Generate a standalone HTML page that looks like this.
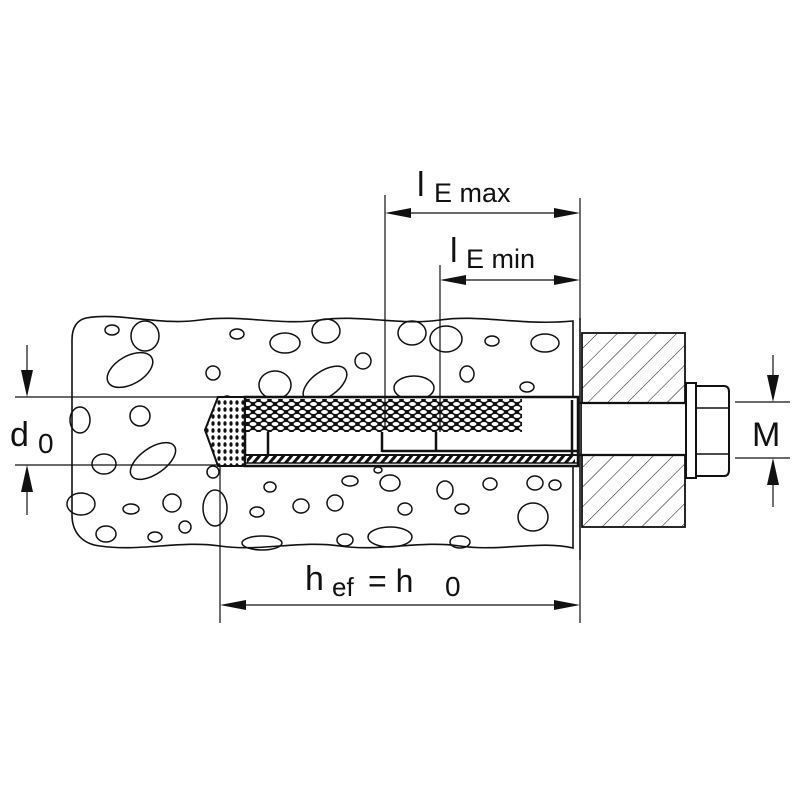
<!DOCTYPE html>
<html><head><style>
body{margin:0;background:#fff;}
svg{display:block;}
text{font-family:"Liberation Sans",sans-serif;fill:#111;}
</style></head><body>
<svg width="800" height="800" viewBox="0 0 800 800" xmlns="http://www.w3.org/2000/svg">
<defs>
<pattern id="hatch" patternUnits="userSpaceOnUse" width="14" height="14" patternTransform="rotate(45)">
<line x1="0" y1="0" x2="0" y2="14" stroke="#222" stroke-width="1.1"/>
</pattern>
<pattern id="mesh" patternUnits="userSpaceOnUse" width="11" height="8">
<rect width="11" height="8" fill="#111"/>
<ellipse cx="5.5" cy="4" rx="3.4" ry="2" fill="#fff"/>
<ellipse cx="0" cy="0" rx="3.4" ry="2" fill="#fff"/>
<ellipse cx="11" cy="0" rx="3.4" ry="2" fill="#fff"/>
<ellipse cx="0" cy="8" rx="3.4" ry="2" fill="#fff"/>
<ellipse cx="11" cy="8" rx="3.4" ry="2" fill="#fff"/>
</pattern>
<pattern id="dots" patternUnits="userSpaceOnUse" width="6" height="7">
<rect width="6" height="7" fill="#fff"/>
<ellipse cx="3" cy="3.5" rx="1.6" ry="2.3" fill="#111"/>
</pattern>
<pattern id="stripe" patternUnits="userSpaceOnUse" width="8" height="8" patternTransform="skewX(-40)">
<rect width="8" height="8" fill="#fff"/>
<rect width="4" height="8" fill="#111"/>
</pattern>
</defs>
<g fill="none" stroke="#111" stroke-width="1.6">
<path d="M86,318 C120,312 160,326 200,320 C240,314 280,326 320,320 C360,314 400,326 440,320 C480,314 520,326 573,321 L573,548 C540,540 500,552 460,546 C420,540 380,552 340,546 C300,540 260,552 220,546 C180,540 140,552 100,546 C82,544 72,532 72,515 L72,340 C72,326 78,320 86,318 Z"/>
<g stroke-width="1.5">
<ellipse cx="112" cy="330" rx="7" ry="5"/>
<ellipse cx="145" cy="336" rx="14" ry="15"/>
<ellipse cx="237" cy="334" rx="7" ry="5"/>
<ellipse cx="285" cy="343" rx="15" ry="10"/>
<ellipse cx="326" cy="331" rx="14" ry="12"/>
<ellipse cx="363" cy="361" rx="8" ry="8"/>
<ellipse cx="412" cy="333" rx="14" ry="12"/>
<ellipse cx="446" cy="339" rx="16" ry="13"/>
<ellipse cx="492" cy="341" rx="7" ry="5"/>
<ellipse cx="545" cy="343" rx="14" ry="9"/>
<ellipse cx="130" cy="370" rx="25" ry="14" transform="rotate(-30 130 370)"/>
<ellipse cx="213" cy="373" rx="7" ry="7"/>
<ellipse cx="275" cy="385" rx="16" ry="14"/>
<ellipse cx="325" cy="384" rx="25" ry="13" transform="rotate(-35 325 384)"/>
<ellipse cx="467" cy="374" rx="7" ry="8"/>
<ellipse cx="527" cy="387" rx="7" ry="5"/>
<ellipse cx="414" cy="388" rx="20" ry="12"/>
<ellipse cx="227" cy="401" rx="5" ry="5"/>
<ellipse cx="140" cy="416" rx="10" ry="10"/>
<ellipse cx="80" cy="420" rx="10" ry="13"/>
<ellipse cx="153" cy="461" rx="26" ry="13" transform="rotate(-35 153 461)"/>
<ellipse cx="104" cy="464" rx="12" ry="10"/>
<ellipse cx="213" cy="472" rx="6" ry="6"/>
<ellipse cx="81" cy="504" rx="14" ry="11"/>
<ellipse cx="131" cy="509" rx="8" ry="5"/>
<ellipse cx="172" cy="503" rx="9" ry="9"/>
<ellipse cx="185" cy="527" rx="6" ry="6"/>
<ellipse cx="106" cy="534" rx="10" ry="8"/>
<ellipse cx="155" cy="537" rx="7" ry="5"/>
<ellipse cx="215" cy="508" rx="12" ry="18"/>
<ellipse cx="270" cy="487" rx="6" ry="5"/>
<ellipse cx="257" cy="512" rx="7" ry="5"/>
<ellipse cx="301" cy="506" rx="8" ry="7"/>
<ellipse cx="350" cy="481" rx="8" ry="5"/>
<ellipse cx="390" cy="483" rx="10" ry="8"/>
<ellipse cx="405" cy="509" rx="7" ry="6"/>
<ellipse cx="445" cy="490" rx="8" ry="9"/>
<ellipse cx="462" cy="509" rx="7" ry="5"/>
<ellipse cx="490" cy="484" rx="7" ry="6"/>
<ellipse cx="533" cy="517" rx="15" ry="14"/>
<ellipse cx="535" cy="483" rx="8" ry="7"/>
<ellipse cx="555" cy="485" rx="6" ry="5"/>
<ellipse cx="390" cy="537" rx="22" ry="10"/>
<ellipse cx="262" cy="543" rx="20" ry="7"/>
<ellipse cx="345" cy="540" rx="8" ry="6"/>
<ellipse cx="460" cy="542" rx="10" ry="6"/>
<ellipse cx="335" cy="503" rx="8" ry="8"/>
<ellipse cx="378" cy="470" rx="4" ry="3"/>
</g>
</g>
<rect x="218" y="397" width="360" height="69" fill="#fff"/>
<polygon points="218,397 245,397 245,466 218,466 205,430" fill="url(#dots)" stroke="#111" stroke-width="2"/>
<rect x="245" y="397" width="333" height="69" fill="#fff" stroke="#111" stroke-width="2.5"/>
<rect x="246" y="399" width="276" height="33" fill="url(#mesh)"/>
<rect x="247" y="455" width="328" height="8" fill="url(#stripe)"/>
<line x1="245" y1="455" x2="578" y2="455" stroke="#111" stroke-width="2"/>
<line x1="245" y1="463" x2="578" y2="463" stroke="#111" stroke-width="1.5"/>
<g stroke="#111" stroke-width="2.5">
<line x1="268" y1="432" x2="268" y2="455"/>
<line x1="382" y1="432" x2="382" y2="452"/>
<line x1="436" y1="432" x2="436" y2="452"/>
<line x1="382" y1="451" x2="578" y2="451"/>
<line x1="572" y1="400" x2="572" y2="455"/>
</g>
<rect x="582" y="333" width="103" height="194" fill="url(#hatch)" stroke="#111" stroke-width="1.8"/>
<rect x="582" y="403" width="104" height="52" fill="#fff"/>
<line x1="578" y1="403" x2="686" y2="403" stroke="#111" stroke-width="2.2"/>
<line x1="578" y1="455" x2="686" y2="455" stroke="#111" stroke-width="2.2"/>
<line x1="580" y1="318" x2="580" y2="560" stroke="#111" stroke-width="1.6"/>
<rect x="686" y="383" width="10" height="95" fill="#fff" stroke="#111" stroke-width="2"/>
<path d="M696,386 L724,386 Q729,386 729,392 L729,470 Q729,476 724,476 L696,476 Z" fill="#fff" stroke="#111" stroke-width="2"/>
<line x1="696" y1="408" x2="728" y2="408" stroke="#111" stroke-width="1.5"/>
<line x1="696" y1="454" x2="728" y2="454" stroke="#111" stroke-width="1.5"/>
<g stroke="#111" stroke-width="1.2" fill="none">
<line x1="735" y1="402" x2="790" y2="402"/>
<line x1="735" y1="458" x2="790" y2="458"/>
<line x1="773" y1="355" x2="773" y2="380"/>
<line x1="773" y1="480" x2="773" y2="507"/>
<line x1="15" y1="397" x2="218" y2="397"/>
<line x1="15" y1="465" x2="218" y2="465"/>
<line x1="27" y1="345" x2="27" y2="375"/>
<line x1="27" y1="487" x2="27" y2="515"/>
<line x1="220" y1="466" x2="220" y2="623"/>
<line x1="580" y1="560" x2="580" y2="623"/>
<line x1="230" y1="605" x2="570" y2="605"/>
<line x1="385" y1="195" x2="385" y2="430"/>
<line x1="580" y1="198" x2="580" y2="320"/>
<line x1="395" y1="213" x2="570" y2="213"/>
<line x1="440" y1="265" x2="440" y2="432"/>
<line x1="450" y1="280" x2="570" y2="280"/>
</g>
<g fill="#111">
<polygon points="773,402 767,375 779,375"/>
<polygon points="773,458 767,485 779,485"/>
<polygon points="27,397 21,370 33,370"/>
<polygon points="27,465 21,492 33,492"/>
<polygon points="220,605 246,600 246,610"/>
<polygon points="580,605 554,600 554,610"/>
<polygon points="385,213 411,208 411,218"/>
<polygon points="580,213 554,208 554,218"/>
<polygon points="440,280 466,275 466,285"/>
<polygon points="580,280 554,275 554,285"/>
</g>
<text x="752" y="446" font-size="34">M</text>
<text x="10" y="446" font-size="34">d</text>
<text x="38" y="453" font-size="28">0</text>
<text x="305" y="590" font-size="34">h</text>
<text x="332" y="596" font-size="26">ef</text>
<text x="368" y="592" font-size="32">= h</text>
<text x="445" y="596" font-size="28">0</text>
<text x="417" y="196" font-size="34">l</text>
<text x="434" y="202" font-size="27">E max</text>
<text x="450" y="262" font-size="34">l</text>
<text x="466" y="268" font-size="27">E min</text>
</svg>
</body></html>
